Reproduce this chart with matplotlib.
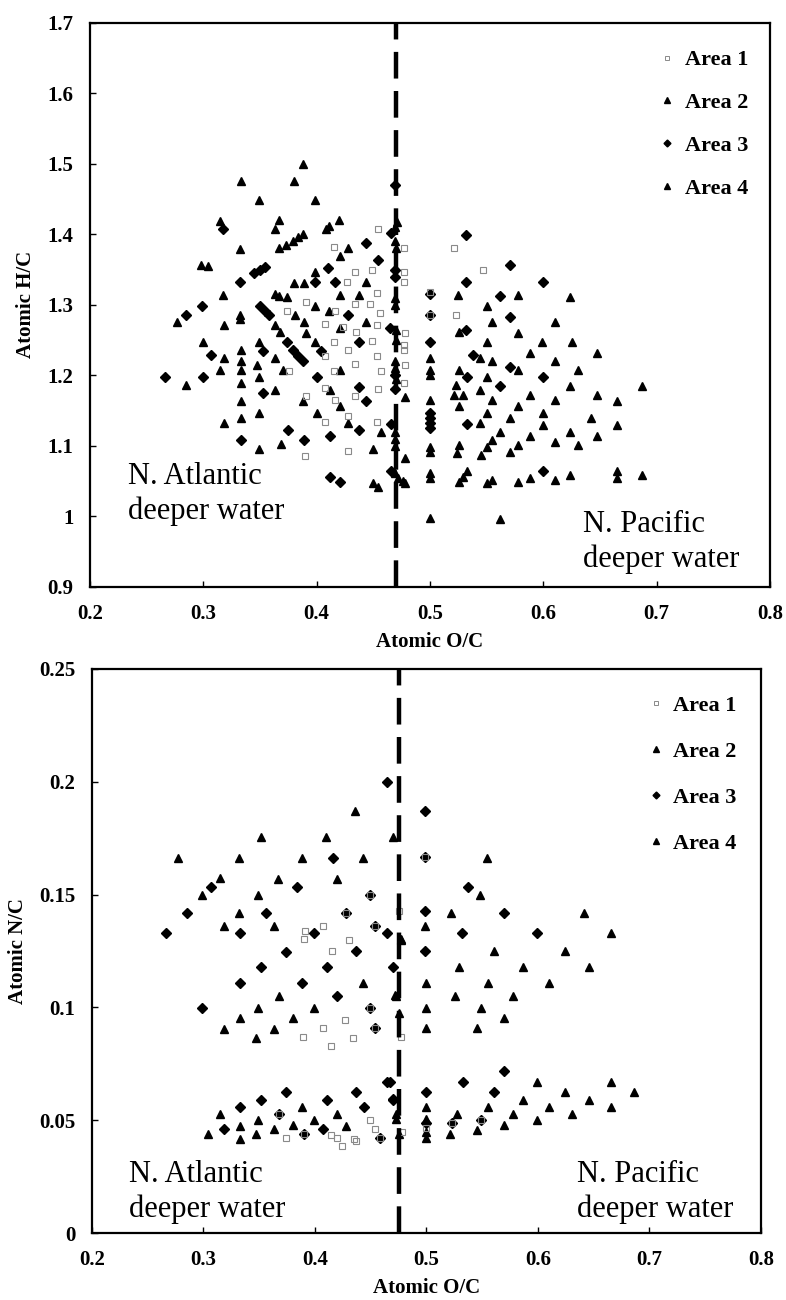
import matplotlib
matplotlib.use("Agg")
import matplotlib.pyplot as plt
from matplotlib.lines import Line2D
from matplotlib.ticker import FormatStrFormatter

# ---------------------------------------------------------------------------
# Data: (O/C, H/C) and (O/C, N/C) per area
# ---------------------------------------------------------------------------

# top panel, H/C vs O/C
hc_area1_oc = [0.454, 0.415, 0.477, 0.521, 0.434, 0.449, 0.477, 0.547, 0.477, 0.427,
               0.453, 0.500, 0.391, 0.374, 0.434, 0.447, 0.456, 0.416, 0.500, 0.523,
               0.407, 0.423, 0.435, 0.453, 0.449, 0.415, 0.478, 0.477, 0.428, 0.407,
               0.434, 0.453, 0.477, 0.478, 0.376, 0.415, 0.457, 0.477, 0.407, 0.434,
               0.454, 0.391, 0.416, 0.428, 0.407, 0.453, 0.390, 0.428]
hc_area1_hc = [1.407, 1.382, 1.381, 1.380, 1.346, 1.350, 1.347, 1.350, 1.333, 1.333,
               1.317, 1.318, 1.304, 1.291, 1.301, 1.301, 1.288, 1.291, 1.286, 1.286,
               1.273, 1.269, 1.261, 1.272, 1.249, 1.248, 1.260, 1.243, 1.236, 1.227,
               1.216, 1.227, 1.236, 1.215, 1.206, 1.206, 1.206, 1.189, 1.182, 1.171,
               1.181, 1.171, 1.165, 1.143, 1.134, 1.134, 1.085, 1.093]

hc_area2_oc = [0.500, 0.500, 0.500, 0.500, 0.500, 0.500, 0.500, 0.500, 0.500,
               0.526, 0.550, 0.555, 0.578, 0.610, 0.550, 0.599, 0.625, 0.544, 0.555,
               0.588, 0.647, 0.610, 0.578, 0.526, 0.550, 0.631, 0.523, 0.521, 0.529,
               0.544, 0.588, 0.624, 0.647, 0.687, 0.526, 0.555, 0.610, 0.665, 0.578,
               0.550, 0.600, 0.544, 0.571, 0.600, 0.642, 0.665, 0.562, 0.555, 0.588,
               0.578, 0.624, 0.610, 0.631, 0.647, 0.526, 0.524, 0.550, 0.545, 0.571,
               0.533, 0.529, 0.526, 0.550, 0.555, 0.578, 0.588, 0.610, 0.624, 0.665,
               0.665, 0.687, 0.562, 0.525, 0.578, 0.624]
hc_area2_hc = [1.224, 1.208, 1.200, 1.165, 1.099, 1.092, 1.061, 1.054, 0.998,
               1.261, 1.299, 1.275, 1.260, 1.275, 1.248, 1.248, 1.248, 1.224, 1.220,
               1.232, 1.232, 1.220, 1.208, 1.208, 1.198, 1.208, 1.187, 1.172, 1.172,
               1.179, 1.172, 1.185, 1.172, 1.185, 1.156, 1.165, 1.165, 1.163, 1.156,
               1.146, 1.146, 1.133, 1.139, 1.130, 1.139, 1.130, 1.120, 1.108, 1.114,
               1.101, 1.120, 1.106, 1.101, 1.114, 1.101, 1.090, 1.099, 1.087, 1.092,
               1.064, 1.056, 1.049, 1.047, 1.052, 1.049, 1.054, 1.052, 1.059, 1.064,
               1.054, 1.059, 0.997, 1.314, 1.314, 1.311]

hc_area3_oc = [0.317, 0.444, 0.454, 0.466, 0.469, 0.345, 0.350, 0.354, 0.332, 0.410,
               0.399, 0.416, 0.299, 0.285, 0.428, 0.266, 0.300, 0.307, 0.333, 0.353,
               0.353, 0.375, 0.374, 0.400, 0.389, 0.404, 0.412, 0.437, 0.437, 0.444,
               0.437, 0.466, 0.412, 0.421, 0.466, 0.465, 0.350, 0.354, 0.358, 0.379,
               0.384, 0.388, 0.469, 0.469, 0.469, 0.469,
               0.500, 0.500, 0.500, 0.500, 0.500, 0.500, 0.500, 0.532, 0.571, 0.538,
               0.571, 0.533, 0.600, 0.562, 0.533, 0.600, 0.532, 0.571, 0.532, 0.600,
               0.562]
hc_area3_hc = [1.408, 1.388, 1.364, 1.402, 1.470, 1.345, 1.350, 1.353, 1.332, 1.352,
               1.332, 1.332, 1.299, 1.286, 1.286, 1.197, 1.197, 1.229, 1.108, 1.234,
               1.175, 1.122, 1.248, 1.197, 1.108, 1.234, 1.114, 1.248, 1.184, 1.163,
               1.123, 1.131, 1.056, 1.049, 1.064, 1.267, 1.298, 1.291, 1.285, 1.236,
               1.227, 1.220, 1.350, 1.340, 1.200, 1.180,
               1.316, 1.286, 1.248, 1.146, 1.139, 1.132, 1.125, 1.265, 1.283, 1.229,
               1.212, 1.197, 1.197, 1.185, 1.131, 1.064, 1.399, 1.357, 1.332, 1.332,
               1.313]

hc_area4_oc = [0.388, 0.333, 0.380, 0.349, 0.399, 0.315, 0.367, 0.363, 0.408, 0.411,
               0.420, 0.332, 0.373, 0.379, 0.384, 0.388, 0.367, 0.428, 0.421, 0.298,
               0.304, 0.399, 0.380, 0.389, 0.444, 0.421, 0.437, 0.317, 0.363, 0.367,
               0.374, 0.332, 0.332, 0.277, 0.318, 0.363, 0.399, 0.411, 0.444, 0.389,
               0.368, 0.391, 0.399, 0.421, 0.300, 0.318, 0.315, 0.333, 0.333, 0.333,
               0.333, 0.333, 0.333, 0.318, 0.285, 0.349, 0.349, 0.347, 0.349, 0.349,
               0.363, 0.363, 0.369, 0.370, 0.381, 0.400, 0.388, 0.412, 0.421, 0.421,
               0.428, 0.450, 0.457, 0.450, 0.454,
               0.471, 0.469, 0.469, 0.470, 0.469, 0.469, 0.470, 0.470, 0.469, 0.469,
               0.470, 0.478, 0.469, 0.469, 0.469, 0.478, 0.469, 0.472, 0.476, 0.478]
hc_area4_hc = [1.500, 1.475, 1.475, 1.449, 1.449, 1.419, 1.420, 1.407, 1.408, 1.412,
               1.420, 1.379, 1.385, 1.391, 1.396, 1.401, 1.380, 1.380, 1.369, 1.357,
               1.355, 1.347, 1.331, 1.331, 1.332, 1.314, 1.314, 1.314, 1.316, 1.313,
               1.311, 1.286, 1.280, 1.276, 1.272, 1.272, 1.299, 1.291, 1.276, 1.276,
               1.261, 1.260, 1.248, 1.267, 1.247, 1.224, 1.208, 1.236, 1.220, 1.208,
               1.189, 1.163, 1.139, 1.132, 1.186, 1.247, 1.198, 1.215, 1.147, 1.095,
               1.179, 1.224, 1.103, 1.208, 1.286, 1.146, 1.163, 1.179, 1.208, 1.156,
               1.132, 1.095, 1.120, 1.047, 1.042,
               1.418, 1.410, 1.390, 1.380, 1.310, 1.300, 1.265, 1.250, 1.220, 1.210,
               1.195, 1.170, 1.120, 1.110, 1.100, 1.083, 1.062, 1.055, 1.050, 1.048]

# bottom panel, N/C vs O/C
nc_area1_oc = [0.407, 0.391, 0.431, 0.390, 0.415, 0.407, 0.389, 0.414, 0.427, 0.434,
               0.477, 0.475, 0.449, 0.454, 0.374, 0.420, 0.424, 0.435, 0.437, 0.414,
               0.458, 0.478, 0.500, 0.523, 0.549, 0.449, 0.454, 0.449, 0.428, 0.454,
               0.499, 0.390, 0.368]
nc_area1_nc = [0.136, 0.134, 0.130, 0.1305, 0.125, 0.091, 0.087, 0.083, 0.0946, 0.0866,
               0.087, 0.1427, 0.0503, 0.0463, 0.0419, 0.0419, 0.0385, 0.0415, 0.041, 0.0434,
               0.0419, 0.0448, 0.0464, 0.0486, 0.0503, 0.0995, 0.091, 0.1496, 0.142, 0.136,
               0.1667, 0.0438, 0.0527]

nc_area2_oc = [0.554, 0.548, 0.522, 0.641, 0.499, 0.666, 0.561, 0.624, 0.529, 0.587,
               0.646, 0.500, 0.555, 0.610, 0.526, 0.578, 0.500, 0.549, 0.570, 0.500,
               0.545, 0.599, 0.666, 0.624, 0.686, 0.587, 0.646, 0.500, 0.555, 0.610,
               0.666, 0.527, 0.578, 0.631, 0.599, 0.570, 0.545, 0.521, 0.500, 0.500,
               0.500]
nc_area2_nc = [0.166, 0.1496, 0.142, 0.142, 0.136, 0.133, 0.125, 0.125, 0.1177, 0.1177,
               0.1177, 0.1108, 0.1108, 0.1108, 0.1049, 0.1049, 0.0999, 0.0999, 0.0951, 0.091,
               0.091, 0.067, 0.067, 0.0626, 0.0626, 0.0589, 0.0589, 0.056, 0.056, 0.056,
               0.0557, 0.0527, 0.0527, 0.0527, 0.050, 0.0478, 0.0456, 0.0438, 0.0507, 0.0448,
               0.0419]

nc_area3_oc = [0.465, 0.416, 0.307, 0.384, 0.449, 0.285, 0.356, 0.428, 0.266, 0.333,
               0.399, 0.454, 0.465, 0.374, 0.437, 0.352, 0.411, 0.470, 0.333, 0.388,
               0.420, 0.299, 0.449, 0.454, 0.465, 0.374, 0.437, 0.352, 0.411, 0.470,
               0.333, 0.444, 0.368, 0.318, 0.407, 0.390, 0.458,
               0.499, 0.499, 0.537, 0.499, 0.570, 0.532, 0.599, 0.499, 0.570, 0.533,
               0.500, 0.561, 0.467, 0.470, 0.500, 0.549, 0.523]
nc_area3_nc = [0.200, 0.166, 0.1535, 0.1533, 0.1496, 0.142, 0.142, 0.142, 0.133, 0.133,
               0.133, 0.136, 0.133, 0.1245, 0.125, 0.1177, 0.1177, 0.1177, 0.1108, 0.1108,
               0.1049, 0.0999, 0.0995, 0.091, 0.067, 0.0626, 0.0626, 0.0589, 0.0589, 0.0592,
               0.056, 0.056, 0.0527, 0.0459, 0.0459, 0.0438, 0.0419,
               0.187, 0.1667, 0.1535, 0.1427, 0.142, 0.133, 0.133, 0.125, 0.0719, 0.067,
               0.0626, 0.0626, 0.067, 0.0589, 0.0486, 0.0503, 0.0486]

nc_area4_oc = [0.436, 0.352, 0.410, 0.470, 0.277, 0.332, 0.388, 0.443, 0.315, 0.367,
               0.420, 0.299, 0.349, 0.332, 0.318, 0.363, 0.443, 0.368, 0.349, 0.399,
               0.333, 0.380, 0.318, 0.363, 0.347, 0.388, 0.315, 0.420, 0.349, 0.399,
               0.333, 0.380, 0.428, 0.363, 0.304, 0.347, 0.333, 0.477, 0.473, 0.475,
               0.472, 0.473, 0.473, 0.477, 0.475]
nc_area4_nc = [0.187, 0.1757, 0.1757, 0.1757, 0.166, 0.166, 0.166, 0.166, 0.1574, 0.157,
               0.157, 0.1496, 0.1496, 0.142, 0.136, 0.136, 0.1108, 0.1049, 0.0995, 0.0995,
               0.0951, 0.0951, 0.0906, 0.0906, 0.0866, 0.0557, 0.0527, 0.0527, 0.050, 0.050,
               0.0473, 0.0478, 0.0473, 0.0459, 0.0438, 0.0438, 0.0415, 0.1305, 0.1049, 0.0973,
               0.1053, 0.0527, 0.0505, 0.130, 0.044]

area_labels = ["Area 1", "Area 2", "Area 3", "Area 4"]
divide_oc_top = 0.47
divide_oc_bottom = 0.475

# ---------------------------------------------------------------------------
# Style
# ---------------------------------------------------------------------------
plt.rcParams["font.family"] = ["Liberation Serif", "DejaVu Serif"]
plt.rcParams["font.weight"] = "bold"

SQ = dict(marker="s", ms=5, mfc="none", mec="#8a8a8a", mew=0.8, ls="none")
TRI2 = dict(marker="^", ms=6.4, color="black", ls="none")
DIA = dict(marker="D", ms=4.8, color="black", ls="none")
TRI4 = dict(marker="^", ms=5.8, color="black", ls="none")


def draw_panel(ax, a1, a2, a3, a4, divide, ylim, yticks, ylabel, legend_anchor,
               legend_gap, note_y):
    ax.plot(*a4, **TRI4, zorder=3)
    ax.plot(*a2, **TRI2, zorder=3)
    ax.plot(*a3, **DIA, zorder=3)
    ax.plot(*a1, **SQ, zorder=4)
    ax.axvline(divide, color="black", lw=3.2, ls=(0, (6, 2.8)), zorder=5)

    ax.set_xlim(0.2, 0.8)
    ax.set_ylim(*ylim)
    ax.set_xticks([0.2, 0.3, 0.4, 0.5, 0.6, 0.7, 0.8])
    ax.set_yticks(yticks)
    ax.xaxis.set_major_formatter(FormatStrFormatter("%g"))
    ax.yaxis.set_major_formatter(FormatStrFormatter("%g"))
    ax.tick_params(direction="in", length=4, width=1, labelsize=15, pad=12)
    for s in ax.spines.values():
        s.set_linewidth(1.6)
    ax.set_xlabel("Atomic O/C", fontsize=15, fontweight="bold", labelpad=6)
    ax.set_ylabel(ylabel, fontsize=15, fontweight="bold", labelpad=8)

    handles = [
        Line2D([], [], marker="s", ms=3.5, mfc="none", mec="#8a8a8a", mew=0.7, ls="none"),
        Line2D([], [], marker="^", ms=5, color="black", ls="none"),
        Line2D([], [], marker="D", ms=3.5, color="black", ls="none"),
        Line2D([], [], marker="^", ms=4, color="black", ls="none"),
    ]
    ax.legend(handles, area_labels, loc="upper right", bbox_to_anchor=legend_anchor,
              frameon=False, prop={"size": 16, "weight": "bold"}, labelspacing=legend_gap,
              handlelength=0.6, handletextpad=0.5, borderpad=0, borderaxespad=0)

    ax.text(0.056, note_y[0], "N. Atlantic\ndeeper water",
            transform=ax.transAxes, ha="left", va="top", fontsize=22,
            fontweight="normal", linespacing=1.25)
    ax.text(0.725, note_y[1], "N. Pacific\ndeeper water",
            transform=ax.transAxes, ha="left", va="top", fontsize=22,
            fontweight="normal", linespacing=1.25)


fig = plt.figure(figsize=(7.86, 13.0), dpi=100)
ax_top = fig.add_axes([0.1145, 0.5485, 0.865, 0.434])
ax_bot = fig.add_axes([0.117, 0.0515, 0.851, 0.434])

draw_panel(ax_top,
           (hc_area1_oc, hc_area1_hc), (hc_area2_oc, hc_area2_hc),
           (hc_area3_oc, hc_area3_hc), (hc_area4_oc, hc_area4_hc),
           divide_oc_top, (0.9, 1.7), [0.9, 1.0, 1.1, 1.2, 1.3, 1.4, 1.5, 1.6, 1.7],
           "Atomic H/C", (0.968, 0.952), 1.0, (0.222, 0.137))
draw_panel(ax_bot,
           (nc_area1_oc, nc_area1_nc), (nc_area2_oc, nc_area2_nc),
           (nc_area3_oc, nc_area3_nc), (nc_area4_oc, nc_area4_nc),
           divide_oc_bottom, (0.0, 0.25), [0, 0.05, 0.1, 0.15, 0.2, 0.25],
           "Atomic N/C", (0.964, 0.953), 1.15, (0.13, 0.13))

fig.savefig("out.png", dpi=100)
